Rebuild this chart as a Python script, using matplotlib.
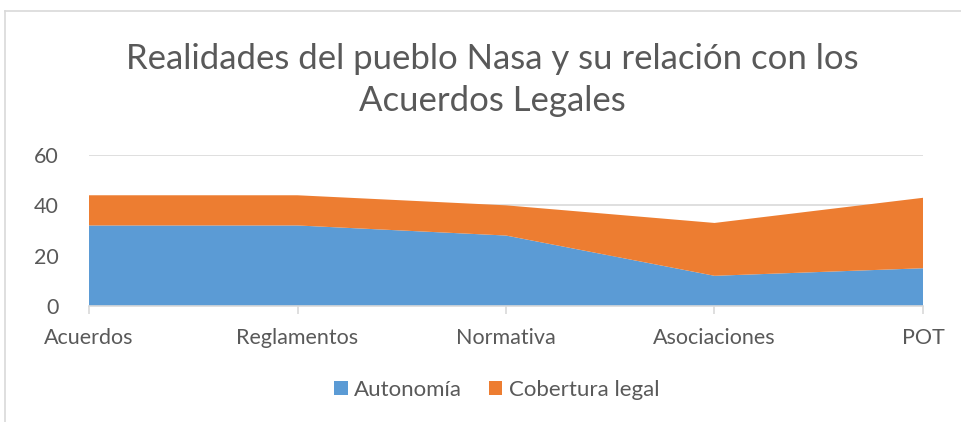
import matplotlib.pyplot as plt
from matplotlib.lines import Line2D

categories = ['Acuerdos', 'Reglamentos', 'Normativa', 'Asociaciones', 'POT']
autonomia = [32, 32, 28, 12, 15]
cobertura = [12, 12, 12, 21, 28]
series_names = ['Autonomía', 'Cobertura legal']
colors = ['#5B9BD5', '#ED7D31']
title = 'Realidades del pueblo Nasa y su relación con los\nAcuerdos Legales'

plt.rcParams['font.family'] = ['Lato', 'DejaVu Sans']

fig = plt.figure(figsize=(9.61, 4.22), dpi=100)
ax = fig.add_axes([89 / 961, 1 - 306 / 422, (923 - 89) / 961, (306 - 155) / 422])

x = list(range(len(categories)))
ax.stackplot(x, autonomia, cobertura, colors=colors, labels=series_names,
             edgecolor='none', zorder=2)

ax.set_xlim(0, len(categories) - 1)
ax.set_ylim(0, 60)
ax.set_yticks([0, 20, 40, 60])
ax.set_xticks(x)
ax.set_xticklabels(categories)
ax.yaxis.grid(True, color='#D9D9D9', linewidth=1.2, zorder=0)
ax.set_axisbelow(True)
for side in ['top', 'right', 'left']:
    ax.spines[side].set_visible(False)
ax.spines['bottom'].set_color('#D9D9D9')
ax.spines['bottom'].set_linewidth(1.2)
ax.spines['bottom'].set_zorder(3)
ax.tick_params(axis='y', length=0, pad=22, labelsize=15.5, labelcolor='#595959')
ax.tick_params(axis='x', length=6, width=1.2, color='#D9D9D9', pad=10,
               labelsize=15.5, labelcolor='#595959')

fig.text(0.512, 1 - 80 / 422, title, ha='center', va='center', fontsize=25,
         color='#595959', linespacing=1.38)

ax.legend(loc='center', bbox_to_anchor=(0.489, (306 - 390) / (306 - 155)),
          ncol=2, frameon=False, fontsize=16, handlelength=0.6, handleheight=0.6,
          handletextpad=0.3, columnspacing=1.2, labelcolor='#595959')

fig.add_artist(Line2D([5 / 961, 5 / 961], [0, 1 - 11 / 422], color='#D9D9D9', linewidth=1.2))
fig.add_artist(Line2D([5 / 961, 1], [1 - 11 / 422, 1 - 11 / 422], color='#D9D9D9', linewidth=1.2))

fig.savefig('out.png', dpi=100)
